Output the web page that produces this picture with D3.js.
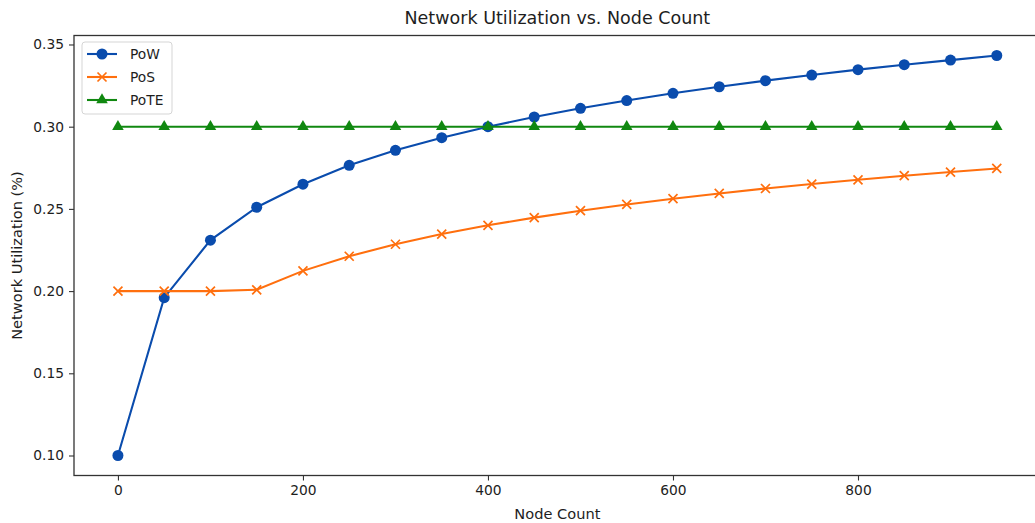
<!DOCTYPE html>
<html>
<head>
<meta charset="utf-8">
<script src="https://cdn.jsdelivr.net/npm/d3@7"></script>
<style>
  html, body { margin: 0; padding: 0; background: #fff; }
  svg { display: block; font-family: "DejaVu Sans", sans-serif; }
</style>
</head>
<body>
<svg id="chart" width="1035" height="523"></svg>
<script>
// Node counts on the x axis
const nodeCounts = [0, 50, 100, 150, 200, 250, 300, 350, 400, 450, 500, 550, 600, 650, 700, 750, 800, 850, 900, 950];

// Network utilization per consensus mechanism
const powValues = [0.100, 0.196, 0.231, 0.251, 0.265, 0.2765, 0.2856, 0.2933, 0.300, 0.3059, 0.3112, 0.3159, 0.3203, 0.3243, 0.3280, 0.3314, 0.3347, 0.3377, 0.3405, 0.3433];
const posValues = [0.200, 0.200, 0.200, 0.2008, 0.2123, 0.2212, 0.2285, 0.2347, 0.2400, 0.2447, 0.2489, 0.2527, 0.2562, 0.2594, 0.2624, 0.2651, 0.2677, 0.2702, 0.2724, 0.2746];
const poteValues = [0.300, 0.300, 0.300, 0.300, 0.300, 0.300, 0.300, 0.300, 0.300, 0.300, 0.300, 0.300, 0.300, 0.300, 0.300, 0.300, 0.300, 0.300, 0.300, 0.300];

const seriesNames = ["PoW", "PoS", "PoTE"];
const xTicks = [0, 200, 400, 600, 800];
const yTicks = [0.10, 0.15, 0.20, 0.25, 0.30, 0.35];

const chartTitle = "Network Utilization vs. Node Count";
const xTitle = "Node Count";
const yTitle = "Network Utilization (%)";

const series = [
  { name: seriesNames[0], values: powValues, color: "#0a4cad", marker: "circle" },
  { name: seriesNames[1], values: posValues, color: "#ff6f0e", marker: "x" },
  { name: seriesNames[2], values: poteValues, color: "#108810", marker: "triangle" }
];

const svg = d3.select("#chart");
const plot = { left: 74, right: 1040.7, top: 35.5, bottom: 475.5 };

// Axis limits with a 5% margin around the data
const xMin = d3.min(nodeCounts), xMax = d3.max(nodeCounts);
const xPad = (xMax - xMin) * 0.05;
const allY = powValues.concat(posValues, poteValues);
const yMin = d3.min(allY), yMax = d3.max(allY);
const yPad = (yMax - yMin) * 0.05;

const x = d3.scaleLinear().domain([xMin - xPad, xMax + xPad]).range([plot.left, plot.right]);
const y = d3.scaleLinear().domain([yMin - yPad, yMax + yPad]).range([plot.bottom, plot.top]);

const axisColor = "#333";
const textColor = "#1e1e1e";

// Plot frame
svg.append("rect")
  .attr("x", plot.left).attr("y", plot.top)
  .attr("width", plot.right - plot.left).attr("height", plot.bottom - plot.top)
  .attr("fill", "none").attr("stroke", axisColor).attr("stroke-width", 1.3);

// X axis
const xAxis = svg.append("g")
  .attr("transform", `translate(0,${plot.bottom})`)
  .call(d3.axisBottom(x).tickValues(xTicks).tickFormat(d3.format("d")).tickSizeOuter(0).tickSize(5).tickPadding(5));
xAxis.select(".domain").remove();
xAxis.selectAll("line").attr("stroke", axisColor).attr("stroke-width", 1.1);
xAxis.selectAll("text").attr("fill", textColor).style("font-size", "13.8px").style("font-family", "DejaVu Sans");

// Y axis
const yAxis = svg.append("g")
  .attr("transform", `translate(${plot.left},0)`)
  .call(d3.axisLeft(y).tickValues(yTicks).tickFormat(d3.format(".2f")).tickSizeOuter(0).tickSize(5).tickPadding(5));
yAxis.select(".domain").remove();
yAxis.selectAll("line").attr("stroke", axisColor).attr("stroke-width", 1.1);
yAxis.selectAll("text").attr("fill", textColor).style("font-size", "13.8px").style("font-family", "DejaVu Sans");

// Titles
svg.append("text")
  .attr("x", (plot.left + plot.right) / 2).attr("y", 24)
  .attr("text-anchor", "middle").attr("fill", textColor)
  .style("font-size", "17.5px").text(chartTitle);

svg.append("text")
  .attr("x", (plot.left + plot.right) / 2).attr("y", 519)
  .attr("text-anchor", "middle").attr("fill", textColor)
  .style("font-size", "14.6px").text(xTitle);

svg.append("text")
  .attr("transform", `translate(22,${(plot.top + plot.bottom) / 2}) rotate(-90)`)
  .attr("text-anchor", "middle").attr("fill", textColor)
  .style("font-size", "14.6px").text(yTitle);

// Marker drawing
function drawMarker(g, type, color) {
  if (type === "circle") {
    g.append("circle").attr("r", 5.5).attr("fill", color);
  } else if (type === "triangle") {
    g.append("path").attr("d", d3.symbol(d3.symbolTriangle, 58)()).attr("fill", color);
  } else {
    const s = 4.5;
    g.append("path").attr("d", `M${-s},${-s}L${s},${s}M${-s},${s}L${s},${-s}`)
      .attr("stroke", color).attr("stroke-width", 1.7).attr("fill", "none");
  }
}

svg.append("clipPath").attr("id", "plot-clip")
  .append("rect").attr("x", plot.left).attr("y", plot.top)
  .attr("width", plot.right - plot.left).attr("height", plot.bottom - plot.top);

const layer = svg.append("g").attr("clip-path", "url(#plot-clip)");
const line = d3.line().x((d, i) => x(nodeCounts[i])).y(d => y(d));

series.forEach(s => {
  layer.append("path")
    .datum(s.values)
    .attr("d", line)
    .attr("fill", "none")
    .attr("stroke", s.color)
    .attr("stroke-width", 2.1);
  s.values.forEach((v, i) => {
    const g = layer.append("g").attr("transform", `translate(${x(nodeCounts[i])},${y(v)})`);
    drawMarker(g, s.marker, s.color);
  });
});

// Legend
const legend = svg.append("g");
legend.append("rect")
  .attr("x", 82).attr("y", 42).attr("width", 90).attr("height", 72)
  .attr("rx", 3).attr("fill", "#fff").attr("fill-opacity", 0.8)
  .attr("stroke", "#d5d5d5").attr("stroke-width", 1);

series.forEach((s, i) => {
  const cy = 54 + i * 23;
  legend.append("line")
    .attr("x1", 87).attr("x2", 117).attr("y1", cy).attr("y2", cy)
    .attr("stroke", s.color).attr("stroke-width", 2.1);
  const g = legend.append("g").attr("transform", `translate(102,${cy})`);
  drawMarker(g, s.marker, s.color);
  legend.append("text")
    .attr("x", 130).attr("y", cy).attr("dy", "0.35em")
    .attr("fill", textColor).style("font-size", "13.8px").text(s.name);
});
</script>
</body>
</html>
